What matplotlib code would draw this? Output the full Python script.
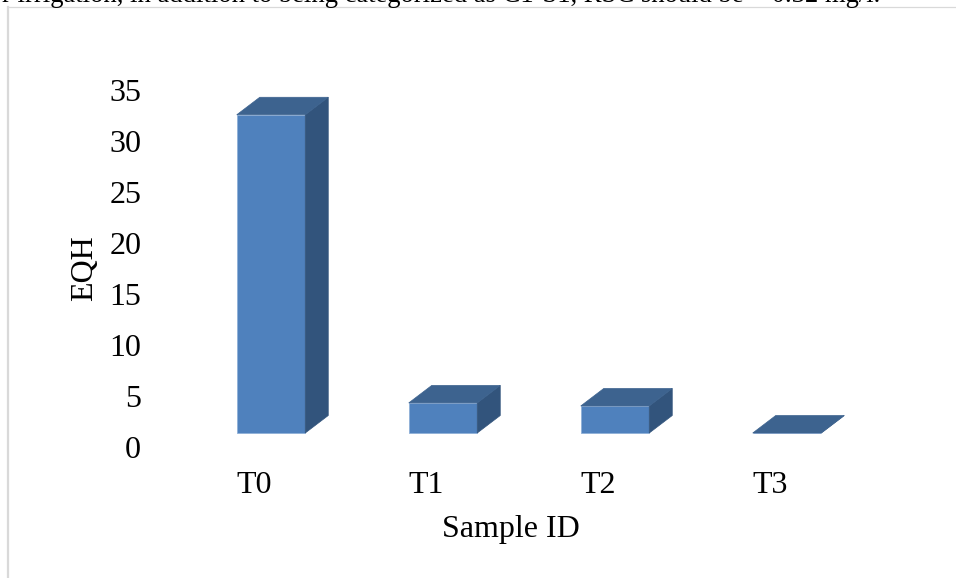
import matplotlib.pyplot as plt
from matplotlib.patches import Polygon

samples = ["T0", "T1", "T2", "T3"]
eqh = [31.2, 2.95, 2.65, 0.0]
y_ticks = [0, 5, 10, 15, 20, 25, 30, 35]

W, H = 956, 578
front = "#4f81bd"
top = "#3d638f"
side = "#32547c"

plt.rcParams['font.family'] = ['Liberation Serif', 'DejaVu Serif']

fig = plt.figure(figsize=(W / 100, H / 100), dpi=100)
# axes box runs from value 0 (y=447px) to 35 (y=90px)
ax = fig.add_axes([149.5 / W, 1 - 447 / H, 700 / W, 357 / H])
ax.set_xlim(-121.5 / 172, 578.5 / 172)
ax.set_ylim(0, 35)
for s in ax.spines.values():
    s.set_visible(False)

# chart is a fake 3D column: front faces sit above the tick zero, depth goes up-right
base = 14 / 10.2
bar_w = 68.5 / 172
dx = 23 / 172
dy = 17.5 / 10.2

for i, v in enumerate(eqh):
    x0 = i - bar_w / 2
    x1 = i + bar_w / 2
    y0 = base
    y1 = base + v
    ax.bar(i, v, width=bar_w, bottom=base, color=front, edgecolor="#8fb0d8", linewidth=0.6)
    ax.add_patch(Polygon([(x1, y0), (x1 + dx, y0 + dy), (x1 + dx, y1 + dy), (x1, y1)],
                         facecolor=side, edgecolor=side, linewidth=0.5))
    ax.add_patch(Polygon([(x0, y1), (x0 + dx, y1 + dy), (x1 + dx, y1 + dy), (x1, y1)],
                         facecolor=top, edgecolor=top, linewidth=0.5))

ax.set_yticks(y_ticks)
ax.set_xticks([i - 17 / 172 for i in range(len(samples))])
ax.set_xticklabels(samples)
ax.tick_params(axis='y', length=0, pad=6, labelsize=23)
ax.tick_params(axis='x', length=0, pad=17, labelsize=23)

fig.text(511 / W, 1 - 530 / H, "Sample ID", fontsize=23, ha='center', va='center')
fig.text(85 / W, 1 - 268 / H, "EQH", fontsize=23, rotation=90, ha='center', va='center')

# frame of the pasted chart, and the line of body text cut off above it
fig.add_artist(plt.Line2D([8 / W, 8 / W], [0, 1 - 7 / H], color="#d9d9d9", linewidth=1.6))
fig.add_artist(plt.Line2D([8 / W, 1], [1 - 7 / H, 1 - 7 / H], color="#d9d9d9", linewidth=0.9))
fig.text(2 / W, 1 - 2 / H, "r irrigation, in addition to being categorized as C1-S1, RSC should be < 0.32 mg/l.",
         fontsize=19.2, ha='left', va='baseline')

fig.savefig("out.png", dpi=100)
